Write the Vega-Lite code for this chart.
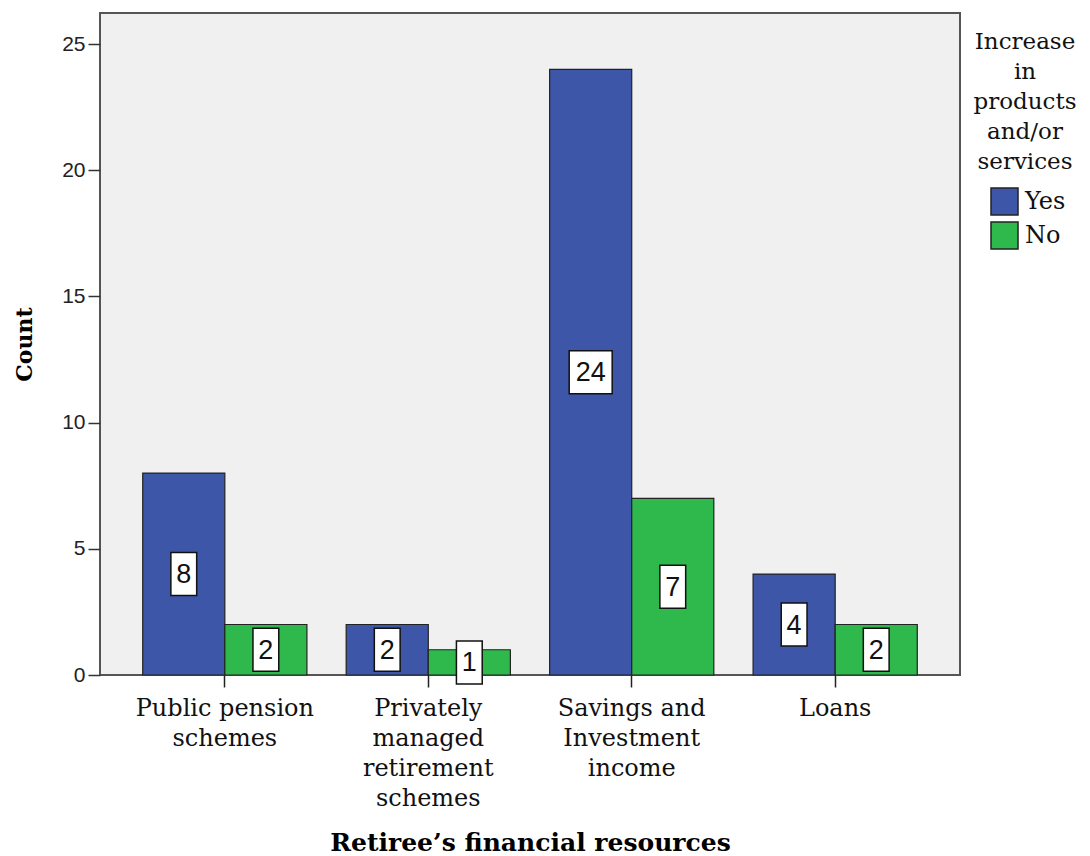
{
  "$schema": "https://vega.github.io/schema/vega-lite/v6.json",
  "width": 860,
  "height": 662,
  "autosize": {"type": "none"},
  "padding": {"left": 100, "top": 13, "right": 130, "bottom": 181},
  "background": "white",
  "config": {"view": {"fill": "#f0f0f0", "stroke": "#555555", "strokeWidth": 2}},
  "data": {
    "values": [
      {"resource": "Public pension schemes", "increase": "Yes", "count": 8},
      {"resource": "Public pension schemes", "increase": "No", "count": 2},
      {"resource": "Privately managed retirement schemes", "increase": "Yes", "count": 2},
      {"resource": "Privately managed retirement schemes", "increase": "No", "count": 1},
      {"resource": "Savings and Investment income", "increase": "Yes", "count": 24},
      {"resource": "Savings and Investment income", "increase": "No", "count": 7},
      {"resource": "Loans", "increase": "Yes", "count": 4},
      {"resource": "Loans", "increase": "No", "count": 2}
    ]
  },
  "encoding": {
    "x": {
      "field": "resource",
      "type": "nominal",
      "sort": ["Public pension schemes", "Privately managed retirement schemes", "Savings and Investment income", "Loans"],
      "scale": {"paddingInner": 0.193, "paddingOuter": 0.21},
      "axis": {
        "title": "Retiree’s financial resources",
        "titleFont": "DejaVu Serif",
        "titleFontWeight": "bold",
        "titleFontSize": 25,
        "titleColor": "#000000",
        "titlePadding": 20,
        "labelAngle": 0,
        "labelLimit": 400,
        "labelFont": "DejaVu Serif",
        "labelFontSize": 24,
        "labelColor": "#111111",
        "labelLineHeight": 30,
        "labelBaseline": "top",
        "labelPadding": 9,
        "tickSize": 12,
        "tickColor": "#222222",
        "tickWidth": 1.5,
        "domain": false,
        "labelExpr": "datum.value == 'Public pension schemes' ? ['Public pension','schemes'] : datum.value == 'Privately managed retirement schemes' ? ['Privately','managed','retirement','schemes'] : datum.value == 'Savings and Investment income' ? ['Savings and','Investment','income'] : datum.value"
      }
    },
    "xOffset": {"field": "increase", "type": "nominal", "sort": ["Yes", "No"], "scale": {"paddingInner": 0, "paddingOuter": 0}}
  },
  "layer": [
    {
      "mark": {"type": "bar", "stroke": "#222222", "strokeWidth": 1.2, "opacity": 1},
      "encoding": {
        "y": {
          "field": "count",
          "type": "quantitative",
          "scale": {"domain": [0, 26.23], "nice": false, "zero": true},
          "axis": {
            "title": "Count",
            "titleFont": "DejaVu Serif",
            "titleFontWeight": "bold",
            "titleFontSize": 22,
            "titleColor": "#000000",
            "titlePadding": 25,
            "values": [0, 5, 10, 15, 20, 25],
            "labelFont": "Liberation Sans",
            "labelFontSize": 21,
            "labelColor": "#222222",
            "labelPadding": 3,
            "tickSize": 12,
            "tickColor": "#333333",
            "tickWidth": 1.5,
            "grid": false,
            "domain": false
          }
        },
        "color": {
          "field": "increase",
          "type": "nominal",
          "scale": {"domain": ["Yes", "No"], "range": ["#3d56a8", "#2fb84b"]},
          "legend": {
            "title": ["Increase", "in", "products", "and/or", "services"],
            "orient": "none",
            "legendX": 873,
            "legendY": 18,
            "titleFont": "DejaVu Serif",
            "titleFontWeight": "normal",
            "titleFontSize": 23,
            "titleColor": "#111111",
            "titleLineHeight": 30,
            "titleAlign": "center",
            "titleAnchor": "middle",
            "titlePadding": 13,
            "titleLimit": 300,
            "symbolType": "square",
            "symbolSize": 729,
            "symbolStrokeColor": "#222222",
            "symbolStrokeWidth": 1.5,
            "symbolOpacity": 1,
            "symbolOffset": 6,
            "labelFont": "DejaVu Serif",
            "labelFontSize": 24,
            "labelColor": "#111111",
            "labelOffset": 6,
            "rowPadding": 1
          }
        }
      }
    },
    {
      "mark": {"type": "point", "filled": true, "fill": "white", "stroke": "#111111", "strokeWidth": 1.5, "opacity": 1, "size": 1849},
      "encoding": {
        "y": {"field": "count", "type": "quantitative", "scale": {"domain": [0, 52.46], "nice": false}, "axis": null},
        "shape": {"condition": {"test": "datum.count >= 10", "value": "square"}, "value": "M-0.6,-1H0.6V1H-0.6Z"}
      }
    },
    {
      "mark": {"type": "text", "font": "Liberation Sans", "fontSize": 27, "color": "#111111", "baseline": "middle", "align": "center", "dy": 1},
      "encoding": {
        "y": {"field": "count", "type": "quantitative", "scale": {"domain": [0, 52.46], "nice": false}, "axis": null},
        "text": {"field": "count", "type": "quantitative"}
      }
    }
  ],
  "resolve": {"scale": {"y": "independent"}}
}
